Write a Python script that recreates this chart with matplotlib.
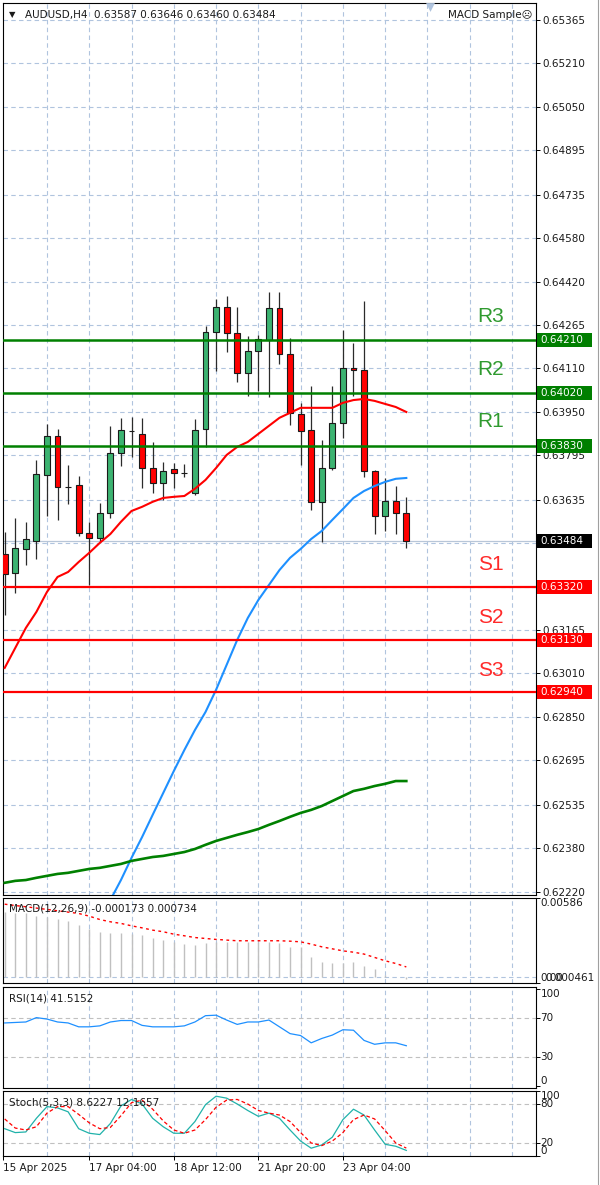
import matplotlib
matplotlib.use("Agg")
import matplotlib.pyplot as plt
from matplotlib.patches import Rectangle
from matplotlib.lines import Line2D
from matplotlib.transforms import blended_transform_factory as btf
import numpy as np

plt.rcParams['font.family'] = ['DejaVu Sans']

# ---------------- data ----------------
opens = [0.63439, 0.63371, 0.63457, 0.63486, 0.63724, 0.63865, 0.63681, 0.63688, 0.63515, 0.63497,
         0.63587, 0.63803, 0.63883, 0.63872, 0.63749, 0.63695, 0.63746, 0.63731, 0.63659, 0.63890,
         0.64240, 0.64330, 0.64236, 0.64092, 0.64171, 0.64211, 0.64326, 0.64160, 0.63944, 0.63886,
         0.63627, 0.63749, 0.63912, 0.64110, 0.64103, 0.63738, 0.63576, 0.63630, 0.63587]
highs = [0.63518, 0.63569, 0.63555, 0.63778, 0.63908, 0.63890, 0.63760, 0.63720, 0.63555, 0.63623,
         0.63901, 0.63930, 0.63933, 0.63930, 0.63843, 0.63771, 0.63767, 0.63764, 0.63926, 0.64261,
         0.64359, 0.64370, 0.64330, 0.64225, 0.64229, 0.64384, 0.64384, 0.64218, 0.63984, 0.64045,
         0.63850, 0.64045, 0.64247, 0.64200, 0.64352, 0.63742, 0.63713, 0.63684, 0.63646]
lows = [0.63219, 0.63298, 0.63399, 0.63421, 0.63576, 0.63562, 0.63619, 0.63504, 0.63327, 0.63482,
        0.63569, 0.63756, 0.63789, 0.63677, 0.63659, 0.63634, 0.63677, 0.63717, 0.63652, 0.63825,
        0.64099, 0.64168, 0.64059, 0.64009, 0.64027, 0.64005, 0.64124, 0.63904, 0.63760, 0.63598,
        0.63482, 0.63742, 0.63857, 0.64009, 0.63717, 0.63511, 0.63522, 0.63511, 0.63460]
closes = [0.63367, 0.63461, 0.63493, 0.63728, 0.63865, 0.63681, 0.63680, 0.63515, 0.63497, 0.63587,
          0.63803, 0.63886, 0.63884, 0.63749, 0.63695, 0.63738, 0.63731, 0.63730, 0.63886, 0.64240,
          0.64330, 0.64236, 0.64092, 0.64171, 0.64214, 0.64326, 0.64160, 0.63948, 0.63883, 0.63627,
          0.63749, 0.63912, 0.64110, 0.64103, 0.63738, 0.63576, 0.63630, 0.63587, 0.63484]

ma_red = [0.63028, 0.63100, 0.63172, 0.63230, 0.63302, 0.63356, 0.63374, 0.63410, 0.63443, 0.63479,
          0.63511, 0.63555, 0.63594, 0.63609, 0.63627, 0.63641, 0.63645, 0.63648, 0.63674, 0.63706,
          0.63749, 0.63796, 0.63825, 0.63843, 0.63872, 0.63901, 0.63930, 0.63948, 0.63966, 0.63966,
          0.63966, 0.63966, 0.63984, 0.63994, 0.63998, 0.63991, 0.63980, 0.63969, 0.63951]
ma_blue = [np.nan] * 9 + [0.62112, 0.62191, 0.62263, 0.62343, 0.62418, 0.62498, 0.62577, 0.62656,
                          0.62732, 0.62804, 0.62869, 0.62949, 0.63039, 0.63129, 0.63208, 0.63273,
                          0.63327, 0.63381, 0.63425, 0.63457, 0.63493, 0.63522, 0.63562, 0.63601,
                          0.63641, 0.63666, 0.63684, 0.63699, 0.63710, 0.63713]
ma_green = [0.62253, 0.62260, 0.62263, 0.62271, 0.62278, 0.62285, 0.62289, 0.62296, 0.62303, 0.62307,
            0.62314, 0.62321, 0.62332, 0.62339, 0.62346, 0.62350, 0.62357, 0.62364, 0.62375, 0.62390,
            0.62404, 0.62415, 0.62426, 0.62436, 0.62447, 0.62462, 0.62476, 0.62491, 0.62505, 0.62516,
            0.62530, 0.62548, 0.62566, 0.62584, 0.62592, 0.62602, 0.62610, 0.62620, 0.62620]

macd_hist = [0.00483, 0.00471, 0.00471, 0.00451, 0.00441, 0.00429, 0.00416, 0.00384, 0.00352, 0.00335,
             0.00327, 0.00327, 0.00322, 0.00310, 0.00292, 0.00273, 0.00258, 0.00243, 0.00233, 0.00253,
             0.00260, 0.00260, 0.00258, 0.00258, 0.00258, 0.00258, 0.00253, 0.00223, 0.00218, 0.00144,
             0.00112, 0.00104, 0.00104, 0.00112, 0.00082, 0.00055, 0.00012, -0.00005, -0.000173]
macd_signal = [0.00540, 0.00530, 0.00521, 0.00511, 0.00501, 0.00491, 0.00481, 0.00471, 0.00451, 0.00426,
               0.00409, 0.00397, 0.00379, 0.00364, 0.00347, 0.00335, 0.00317, 0.00305, 0.00292, 0.00285,
               0.00278, 0.00273, 0.00268, 0.00268, 0.00268, 0.00268, 0.00268, 0.00265, 0.00260, 0.00243,
               0.00223, 0.00208, 0.00193, 0.00183, 0.00169, 0.00144, 0.00119, 0.00099, 0.000734]

rsi = [65.0, 65.5, 66.0, 70.5, 69.0, 66.0, 65.0, 61.0, 61.0, 62.0,
       66.0, 67.5, 67.5, 62.5, 61.0, 61.0, 61.0, 62.0, 66.0, 72.5,
       73.0, 68.0, 63.5, 66.0, 66.0, 68.0, 61.0, 54.0, 52.0, 44.5,
       49.0, 52.5, 58.0, 57.5, 47.0, 43.0, 44.5, 44.5, 41.5152]

stoch_k = [42, 36, 37, 58, 76, 74, 68, 42, 35, 33,
           50, 77, 87, 80, 58, 45, 35, 35, 53, 79,
           92, 89, 80, 70, 61, 66, 58, 40, 23, 12,
           17, 29, 56, 72, 63, 40, 18, 15, 8.6227]
stoch_d = [57, 43, 40, 45, 66, 76, 76, 64, 51, 42,
           44, 62, 82, 86, 72, 54, 40, 35, 40, 56,
           75, 86, 87, 80, 70, 66, 63, 53, 36, 20,
           16, 23, 36, 56, 63, 57, 39, 20, 12.1657]

price_ticks = [0.65365, 0.65210, 0.65050, 0.64895, 0.64735, 0.64580, 0.64420, 0.64265, 0.64110,
               0.63950, 0.63795, 0.63635, 0.63480, 0.63320, 0.63165, 0.63010, 0.62850, 0.62695,
               0.62535, 0.62380, 0.62220]
res_levels = [0.64210, 0.64020, 0.63830]
res_names = ['R3', 'R2', 'R1']
sup_levels = [0.63320, 0.63130, 0.62940]
sup_names = ['S1', 'S2', 'S3']

time_labels = ['15 Apr 2025', '17 Apr 04:00', '18 Apr 12:00', '21 Apr 20:00', '23 Apr 04:00']
time_pos = [-0.16, 8, 16, 24, 32]

title = 'AUDUSD,H4  0.63587 0.63646 0.63460 0.63484'
macd_label = 'MACD(12,26,9) -0.000173 0.000734'
rsi_label = 'RSI(14) 41.5152'
stoch_label = 'Stoch(5,3,3) 8.6227 12.1657'

# ---------------- layout ----------------
W, H, DPI = 600, 1185, 100
fig = plt.figure(figsize=(W / DPI, H / DPI), dpi=DPI, facecolor='white')


def px_axes(x0, y0, x1, y1):
    return fig.add_axes([x0 / W, 1 - y1 / H, (x1 - x0) / W, (y1 - y0) / H])


ax = px_axes(3, 3, 536, 895)
ax_macd = px_axes(3, 898, 536, 983)
ax_rsi = px_axes(3, 987, 536, 1088)
ax_st = px_axes(3, 1091, 536, 1156)

XMIN, XMAX = -0.16, 50.27
GRID_C = '#b0c4de'
GRID_LS = (0, (4, 3))
FS = 7.5
TXT_C = '#1a1a1a'

n = len(closes)
idx = np.arange(n)
o = np.array(opens); c = np.array(closes); hi = np.array(highs); lo = np.array(lows)

for a in (ax, ax_macd, ax_rsi, ax_st):
    a.set_xlim(XMIN, XMAX)
    a.set_facecolor('white')
    for s in a.spines.values():
        s.set_color('black')
        s.set_linewidth(0.8)
    a.yaxis.tick_right()
    a.tick_params(axis='y', direction='out', length=3, width=0.7, colors='black',
                  labelsize=FS, pad=1.5, labelcolor=TXT_C)
    a.set_xticks([])
    for gx in range(4, 49, 4):
        a.axvline(gx, color=GRID_C, lw=0.8, ls=GRID_LS, zorder=0)

# ---------------- main panel ----------------
ax.set_ylim(0.62209, 0.65426)
ax.set_yticks(price_ticks)
ax.set_yticklabels(['%.5f' % t for t in price_ticks])
for t in price_ticks:
    ax.axhline(t, color=GRID_C, lw=0.8, ls=GRID_LS, zorder=0)

# bid line
ax.axhline(c[-1], color='#b8c6d8', lw=0.9, zorder=1)

up = c >= o
body_col = np.where(up, '#3cb371', '#ff0000')
ax.vlines(idx, lo, hi, color='#2b2b2b', lw=0.9, zorder=3)
ax.bar(idx, np.abs(c - o), width=0.56, bottom=np.minimum(o, c), color=body_col,
       edgecolor='#1a1a1a', linewidth=0.8, zorder=4)

ax.plot(idx, ma_red, color='#ff0000', lw=1.5, zorder=5)
ax.plot(idx, ma_blue, color='#1e90ff', lw=1.5, zorder=5)
ax.plot(idx, ma_green, color='#008000', lw=1.9, zorder=5)

yx = btf(ax.transAxes, ax.transData)
box_h = 14 / 27727.0
box_x0 = (537 - 3) / 533.0
box_w = 55 / 533.0
txt_x = (540.5 - 3) / 533.0


def price_box(level, fc):
    ax.add_patch(Rectangle((box_x0, level - box_h / 2), box_w, box_h, transform=yx,
                           facecolor=fc, edgecolor='none', clip_on=False, zorder=10))
    ax.text(txt_x, level, '%.5f' % level, transform=yx, color='white', fontsize=FS,
            va='center', ha='left', zorder=11, clip_on=False)


for lev, name in zip(res_levels, res_names):
    ax.axhline(lev, color='#008000', lw=1.8, zorder=6)
    ax.annotate(name, (46, lev), xytext=(0, 17), textcoords='offset points',
                ha='center', va='center', color='#2f9a2f', fontsize=15,
                family=['Liberation Sans', 'DejaVu Sans'], zorder=7)
    price_box(lev, '#007f00')
for lev, name in zip(sup_levels, sup_names):
    ax.axhline(lev, color='#ff0000', lw=1.6, zorder=6)
    ax.annotate(name, (46, lev), xytext=(0, 16), textcoords='offset points',
                ha='center', va='center', color='#ff2a2a', fontsize=15,
                family=['Liberation Sans', 'DejaVu Sans'], zorder=7)
    price_box(lev, '#ff0000')
price_box(c[-1], '#000000')

ax.text(0.011, 0.987, '\u25bc', transform=ax.transAxes, fontsize=6, color=TXT_C,
        va='center', ha='left')
ax.text(0.042, 0.987, title, transform=ax.transAxes, fontsize=FS, color=TXT_C,
        va='center', ha='left')
ax.text(0.993, 0.986, 'MACD Sample\u2639', transform=ax.transAxes, fontsize=FS,
        color=TXT_C, va='center', ha='right', zorder=8)
ax.scatter([40.2], [0.996], marker='v', s=40, color=GRID_C, transform=btf(ax.transData, ax.transAxes),
           clip_on=False, zorder=9, linewidths=0)

# ---------------- MACD ----------------
ax_macd.set_ylim(-0.000461, 0.00586)
ax_macd.set_yticks([0.00586, -0.000461])
ax_macd.set_yticklabels([])
ax_macd.axhline(0, color=GRID_C, lw=0.8, ls=GRID_LS, zorder=0)
ax_macd.vlines(idx, 0, macd_hist, color='#c0c0c0', lw=1.0, zorder=2)
ax_macd.plot(idx, macd_signal, color='#ff0000', lw=1.0, ls=(0, (2, 2.5)), zorder=3)
tm = btf(ax_macd.transAxes, ax_macd.transData)
ax_macd.text(txt_x, 0.00586, '0.00586', transform=tm, fontsize=FS, color=TXT_C, va='top', clip_on=False)
ax_macd.text(txt_x, -0.000461, '0.00', transform=tm, fontsize=FS, color=TXT_C, va='bottom', clip_on=False)
ax_macd.text(txt_x + 0.01, -0.000461, '0.000461', transform=tm, fontsize=FS, color=TXT_C,
             va='bottom', clip_on=False)
ax_macd.text(0.011, 0.88, macd_label, transform=ax_macd.transAxes, fontsize=FS, color=TXT_C,
             va='center', ha='left', zorder=5)

# ---------------- RSI ----------------
ax_rsi.set_ylim(-2.06, 102.06)
ax_rsi.set_yticks([100, 70, 30, 0])
ax_rsi.set_yticklabels([])
for lv in (70, 30):
    ax_rsi.axhline(lv, color='#c0c0c0', lw=0.8, ls=GRID_LS, zorder=1)
ax_rsi.plot(idx, rsi, color='#1e90ff', lw=0.9, zorder=3)
tr = btf(ax_rsi.transAxes, ax_rsi.transData)
ax_rsi.text(txt_x, 100, '100', transform=tr, fontsize=FS, color=TXT_C, va='top', clip_on=False)
ax_rsi.text(txt_x, 70, '70', transform=tr, fontsize=FS, color=TXT_C, va='center', clip_on=False)
ax_rsi.text(txt_x, 30, '30', transform=tr, fontsize=FS, color=TXT_C, va='center', clip_on=False)
ax_rsi.text(txt_x, 0, '0', transform=tr, fontsize=FS, color=TXT_C, va='bottom', clip_on=False)
ax_rsi.text(0.011, 0.89, rsi_label, transform=ax_rsi.transAxes, fontsize=FS, color=TXT_C,
            va='center', ha='left')

# ---------------- Stochastic ----------------
ax_st.set_ylim(0, 100)
ax_st.set_yticks([100, 80, 20, 0])
ax_st.set_yticklabels([])
for lv in (80, 20):
    ax_st.axhline(lv, color='#c0c0c0', lw=0.8, ls=GRID_LS, zorder=1)
ax_st.plot(idx, stoch_k, color='#20b2aa', lw=0.9, zorder=3)
ax_st.plot(idx, stoch_d, color='#ff0000', lw=0.9, ls=(0, (3, 2)), zorder=3)
ts = btf(ax_st.transAxes, ax_st.transData)
ax_st.text(txt_x, 100, '100', transform=ts, fontsize=FS, color=TXT_C, va='top', clip_on=False)
ax_st.text(txt_x, 80, '80', transform=ts, fontsize=FS, color=TXT_C, va='center', clip_on=False)
ax_st.text(txt_x, 20, '20', transform=ts, fontsize=FS, color=TXT_C, va='center', clip_on=False)
ax_st.text(txt_x, 0, '0', transform=ts, fontsize=FS, color=TXT_C, va='bottom', clip_on=False)
ax_st.text(0.011, 0.82, stoch_label, transform=ax_st.transAxes, fontsize=FS, color=TXT_C,
           va='center', ha='left', zorder=5)

ax_st.set_xticks(time_pos)
ax_st.set_xticklabels(time_labels, ha='left')
ax_st.tick_params(axis='x', direction='out', length=3, width=0.7, labelsize=FS, pad=2,
                  labelcolor=TXT_C)

# window right edge
fig.add_artist(Line2D([597.5 / W, 597.5 / W], [0, 1], color='#a0a0a0', lw=0.8))

fig.savefig('out.png', dpi=DPI, facecolor='white')
